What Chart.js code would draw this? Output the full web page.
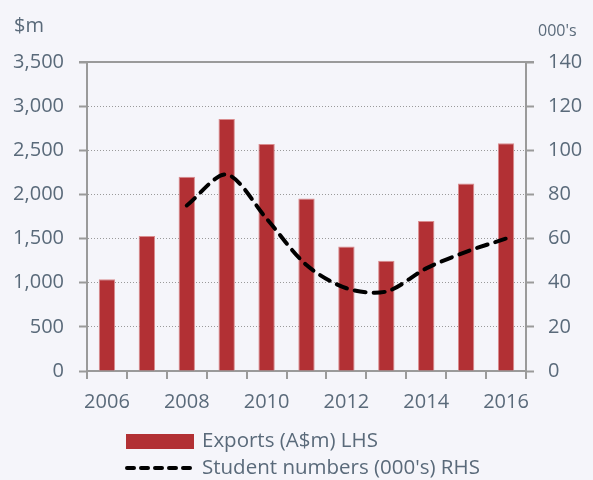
<!DOCTYPE html>
<html>
<head>
<meta charset="utf-8">
<script src="https://cdn.jsdelivr.net/npm/chart.js@4.4.0/dist/chart.umd.min.js"></script>
<style>
  html, body { margin: 0; padding: 0; background: #f5f5fa; }
  #wrap { width: 593px; height: 480px; position: relative; }
</style>
</head>
<body>
<div id="wrap"><canvas id="chart"></canvas></div>
<script>
// dados
const years = ['2006', '2007', '2008', '2009', '2010', '2011', '2012', '2013', '2014', '2015', '2016'];
const exportsLhs = [1040, 1530, 2200, 2855, 2570, 1955, 1410, 1250, 1700, 2125, 2580];
const studentsRhs = [null, null, 75, 89, 69, 48, 37.5, 36, 46.5, 54, 60];
const leftTicks = [0, 500, 1000, 1500, 2000, 2500, 3000, 3500];
const rightTicks = [0, 20, 40, 60, 80, 100, 120, 140];

const textColor = '#5a6a7a';
const axisColor = '#9a9a9a';
const font = { family: 'Open Sans', size: 20 };

// títulos dos eixos, linha superior e legenda
const extras = {
    id: 'extras',
    afterDraw(chart) {
        const { ctx, chartArea } = chart;
        ctx.save();
        ctx.strokeStyle = axisColor;
        ctx.lineWidth = 2;
        ctx.beginPath();
        ctx.moveTo(chartArea.left - 8, chartArea.top);
        ctx.lineTo(chartArea.right + 8, chartArea.top);
        ctx.stroke();

        ctx.fillStyle = textColor;
        ctx.textBaseline = 'alphabetic';
        ctx.font = '20px "Open Sans"';
        ctx.textAlign = 'left';
        ctx.fillText('$m', 14, 32);
        ctx.font = '16px "Open Sans"';
        ctx.fillText("000's", 538, 36);

        const [bars, line] = chart.data.datasets;
        const x0 = 126;
        // barra
        ctx.fillStyle = bars.backgroundColor;
        ctx.fillRect(x0, 434, 68, 15);
        ctx.font = '20.5px "Open Sans"';
        ctx.fillStyle = textColor;
        ctx.textBaseline = 'middle';
        ctx.fillText(bars.label, x0 + 76, 441);
        // linha tracejada
        ctx.strokeStyle = line.borderColor;
        ctx.lineWidth = 4;
        ctx.lineCap = 'round';
        ctx.setLineDash([7, 7]);
        ctx.beginPath();
        ctx.moveTo(x0 + 1, 468);
        ctx.lineTo(x0 + 68, 468);
        ctx.stroke();
        ctx.setLineDash([]);
        ctx.fillText(line.label, x0 + 76, 468);
        ctx.restore();
    }
};

new Chart(document.getElementById('chart'), {
    type: 'bar',
    data: {
        labels: years,
        datasets: [
            {
                label: 'Exports (A$m) LHS',
                data: exportsLhs,
                yAxisID: 'y',
                backgroundColor: '#b23034',
                borderColor: '#d98c8e',
                borderWidth: { top: 1, left: 1, right: 1, bottom: 0 },
                barPercentage: 0.41,
                categoryPercentage: 1,
                order: 1
            },
            {
                type: 'line',
                label: "Student numbers (000's) RHS",
                data: studentsRhs,
                yAxisID: 'y1',
                borderColor: '#000000',
                borderWidth: 4,
                borderDash: [11, 8],
                borderCapStyle: 'round',
                pointRadius: 0,
                tension: 0.3,
                fill: false,
                order: 0
            }
        ]
    },
    options: {
        responsive: true,
        maintainAspectRatio: false,
        animation: false,
        layout: { padding: { top: 62, left: 0, right: 0, bottom: 0 } },
        plugins: {
            legend: { display: false },
            tooltip: { enabled: false }
        },
        scales: {
            x: {
                offset: true,
                grid: { offset: true, drawOnChartArea: false, color: axisColor, tickLength: 8, lineWidth: 2 },
                border: { color: axisColor, width: 2 },
                ticks: {
                    color: textColor, font, autoSkip: false, maxRotation: 0, padding: 11,
                    callback(value, index) { return index % 2 === 0 ? years[index] : ''; }
                },
                afterFit(scale) { scale.height = 109; }
            },
            y: {
                position: 'left',
                min: 0, max: 3500,
                afterBuildTicks(scale) { scale.ticks = leftTicks.map(v => ({ value: v })); },
                grid: { color: axisColor, tickLength: 8, lineWidth: 1, tickWidth: 2 },
                border: { color: axisColor, width: 2, dash: [1, 2] },
                ticks: {
                    color: textColor, font, padding: 15,
                    callback: v => v.toLocaleString('en-US')
                },
                afterFit(scale) { scale.width = 87; }
            },
            y1: {
                position: 'right',
                min: 0, max: 140,
                afterBuildTicks(scale) { scale.ticks = rightTicks.map(v => ({ value: v })); },
                grid: { drawOnChartArea: false, color: axisColor, tickLength: 8, tickWidth: 2 },
                border: { color: axisColor, width: 2 },
                ticks: { color: textColor, font, padding: 14 },
                afterFit(scale) { scale.width = 67; }
            }
        }
    },
    plugins: [extras]
});
</script>
</body>
</html>
